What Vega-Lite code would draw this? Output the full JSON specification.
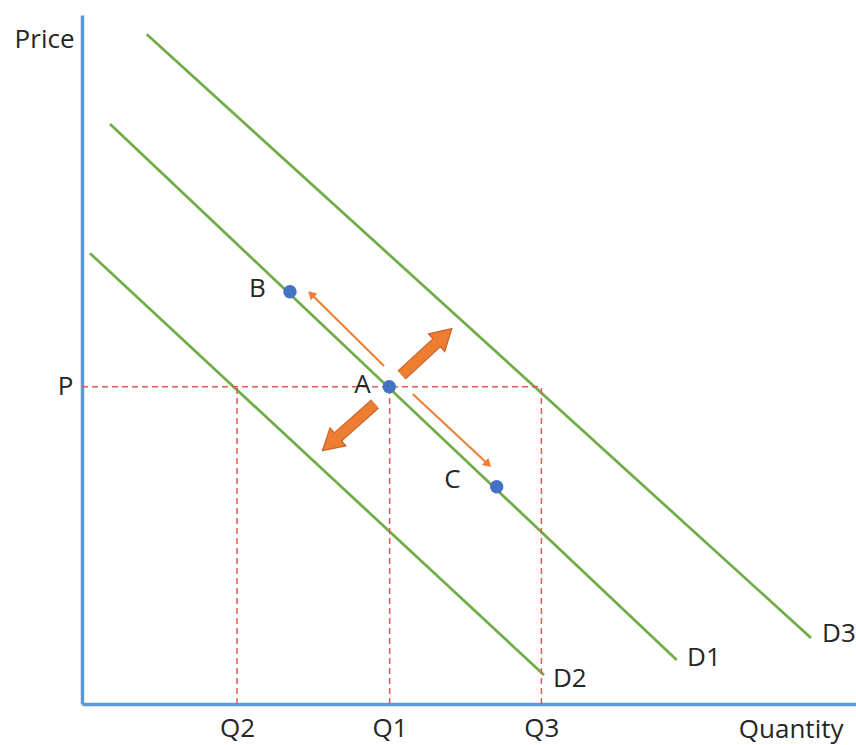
{
  "$schema": "https://vega.github.io/schema/vega-lite/v6.json",
  "width": 774,
  "height": 689,
  "autosize": {"type": "none"},
  "padding": {"left": 82, "top": 15, "right": 0, "bottom": 41},
  "background": "white",
  "config": {"view": {"stroke": null}, "font": "Open Sans"},
  "datasets": {
    "demand": [
      {"curve": "D3", "x": 8.36, "y": 97.2},
      {"curve": "D3", "x": 94.19, "y": 9.58},
      {"curve": "D1", "x": 3.62, "y": 84.18},
      {"curve": "D1", "x": 76.84, "y": 6.39},
      {"curve": "D2", "x": 1.03, "y": 65.41},
      {"curve": "D2", "x": 59.69, "y": 4.21}
    ],
    "guides": [
      {"guide": "P", "x": 0, "y": 46.05, "x2": 59.35, "y2": 46.05},
      {"guide": "Q2", "x": 20.03, "y": 0, "x2": 20.03, "y2": 46.05},
      {"guide": "Q1", "x": 39.75, "y": 0, "x2": 39.75, "y2": 46.05},
      {"guide": "Q3", "x": 59.35, "y": 0, "x2": 59.35, "y2": 46.05}
    ],
    "thin": [
      {"move": "A to B", "x": 39.02, "y": 49.06, "x2": 29.73, "y2": 59.36},
      {"move": "A to C", "x": 42.73, "y": 44.99, "x2": 52.34, "y2": 34.93}
    ],
    "thick": [
      {"move": "increase", "x": 41.3, "y": 47.75, "x2": 46.47, "y2": 53.11},
      {"move": "decrease", "x": 37.86, "y": 43.54, "x2": 32.4, "y2": 38.11}
    ],
    "points": [
      {"point": "A", "x": 39.7, "y": 46.05},
      {"point": "B", "x": 26.87, "y": 59.84},
      {"point": "C", "x": 53.58, "y": 31.54}
    ],
    "pointLabels": [
      {"label": "A", "x": 36.24, "y": 45.14},
      {"label": "B", "x": 22.67, "y": 59.07},
      {"label": "C", "x": 47.87, "y": 31.35}
    ],
    "curveLabels": [
      {"label": "D3", "x": 95.61, "y": 9.0},
      {"label": "D1", "x": 78.17, "y": 5.52},
      {"label": "D2", "x": 60.85, "y": 2.47}
    ]
  },
  "encoding": {
    "x": {
      "field": "x",
      "type": "quantitative",
      "scale": {"domain": [0, 100], "nice": false, "zero": false},
      "axis": {
        "values": [20.03, 39.75, 59.35],
        "labelExpr": "datum.value < 30 ? 'Q2' : (datum.value < 50 ? 'Q1' : 'Q3')",
        "ticks": false,
        "tickSize": 0,
        "grid": false,
        "domainColor": "#5B9BD5",
        "domainWidth": 3.5,
        "labelFont": "Open Sans",
        "labelFontSize": 26,
        "labelColor": "#262626",
        "labelPadding": 32,
        "labelBaseline": "alphabetic",
        "labelFlush": false,
        "labelOverlap": false,
        "title": "Quantity",
        "titleFont": "Open Sans",
        "titleFontSize": 26,
        "titleFontWeight": "normal",
        "titleColor": "#262626",
        "titleAlign": "right",
        "titleBaseline": "alphabetic",
        "titleX": 761,
        "titleY": 33
      }
    },
    "y": {
      "field": "y",
      "type": "quantitative",
      "scale": {"domain": [0, 100], "nice": false, "zero": false},
      "axis": {
        "values": [46.05],
        "labelExpr": "'P'",
        "ticks": false,
        "tickSize": 0,
        "grid": false,
        "domainColor": "#5B9BD5",
        "domainWidth": 3.5,
        "labelFont": "Open Sans",
        "labelFontSize": 26,
        "labelColor": "#262626",
        "labelPadding": 9,
        "labelBaseline": "middle",
        "labelFlush": false,
        "labelOverlap": false,
        "title": "Price",
        "titleFont": "Open Sans",
        "titleFontSize": 26,
        "titleFontWeight": "normal",
        "titleColor": "#262626",
        "titleAngle": 0,
        "titleAlign": "right",
        "titleBaseline": "alphabetic",
        "titleX": -8,
        "titleY": 32
      }
    }
  },
  "layer": [
    {
      "data": {"name": "demand"},
      "mark": {"type": "line", "color": "#70AD47", "strokeWidth": 2.75},
      "encoding": {"detail": {"field": "curve"}}
    },
    {
      "data": {"name": "guides"},
      "mark": {"type": "rule", "color": "#E05A5A", "strokeWidth": 1.5, "strokeDash": [6, 4]},
      "encoding": {"x2": {"field": "x2"}, "y2": {"field": "y2"}}
    },
    {
      "data": {"name": "thin"},
      "mark": {"type": "rule", "color": "#ED7D31", "strokeWidth": 2},
      "encoding": {"x2": {"field": "x2"}, "y2": {"field": "y2"}}
    },
    {
      "data": {"name": "thin"},
      "transform": [{"filter": "datum.move === 'A to B'"}],
      "mark": {"type": "point", "shape": "triangle", "filled": true, "color": "#ED7D31", "opacity": 1, "size": 90, "angle": 314.7},
      "encoding": {"x": {"field": "x2", "type": "quantitative"}, "y": {"field": "y2", "type": "quantitative"}}
    },
    {
      "data": {"name": "thin"},
      "transform": [{"filter": "datum.move === 'A to C'"}],
      "mark": {"type": "point", "shape": "triangle", "filled": true, "color": "#ED7D31", "opacity": 1, "size": 90, "angle": 133},
      "encoding": {"x": {"field": "x2", "type": "quantitative"}, "y": {"field": "y2", "type": "quantitative"}}
    },
    {
      "data": {"name": "thick"},
      "mark": {"type": "rule", "color": "#C8602A", "strokeWidth": 12},
      "encoding": {"x2": {"field": "x2"}, "y2": {"field": "y2"}}
    },
    {
      "data": {"name": "thick"},
      "transform": [{"filter": "datum.move === 'increase'"}],
      "mark": {"type": "point", "shape": "triangle", "filled": true, "fill": "#ED7D31", "stroke": "#C8602A", "strokeWidth": 1.2, "opacity": 1, "size": 576, "angle": 47.2},
      "encoding": {"x": {"field": "x2", "type": "quantitative"}, "y": {"field": "y2", "type": "quantitative"}}
    },
    {
      "data": {"name": "thick"},
      "transform": [{"filter": "datum.move === 'decrease'"}],
      "mark": {"type": "point", "shape": "triangle", "filled": true, "fill": "#ED7D31", "stroke": "#C8602A", "strokeWidth": 1.2, "opacity": 1, "size": 576, "angle": 228.5},
      "encoding": {"x": {"field": "x2", "type": "quantitative"}, "y": {"field": "y2", "type": "quantitative"}}
    },
    {
      "data": {"name": "thick"},
      "mark": {"type": "rule", "color": "#ED7D31", "strokeWidth": 10},
      "encoding": {"x2": {"field": "x2"}, "y2": {"field": "y2"}}
    },
    {
      "data": {"name": "points"},
      "mark": {"type": "circle", "color": "#4472C4", "opacity": 1, "size": 180}
    },
    {
      "data": {"name": "pointLabels"},
      "mark": {"type": "text", "font": "Open Sans", "fontSize": 26, "color": "#262626", "align": "center", "baseline": "alphabetic"},
      "encoding": {"text": {"field": "label"}}
    },
    {
      "data": {"name": "curveLabels"},
      "mark": {"type": "text", "font": "Open Sans", "fontSize": 26, "color": "#262626", "align": "left", "baseline": "alphabetic"},
      "encoding": {"text": {"field": "label"}}
    }
  ]
}
